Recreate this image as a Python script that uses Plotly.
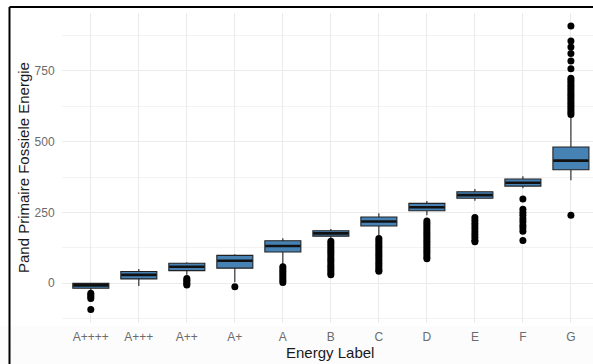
import plotly.graph_objects as go

categories = ["A++++", "A+++", "A++", "A+", "A", "B", "C", "D", "E", "F", "G"]
q1 = [-18, 15, 44, 53, 110, 166, 202, 256, 300, 343, 401]
median = [-8, 29, 58, 79, 131, 176, 218, 268, 311, 355, 433]
q3 = [-1, 41, 70, 98, 150, 185, 234, 282, 323, 368, 481]
lowerfence = [-24, -10, 30, 3, 68, 158, 170, 240, 291, 335, 364]
upperfence = [1, 50, 74, 102, 159, 191, 247, 290, 333, 378, 590]

outliers = {
    "A++++": [-36, -42, -48, -54, -93],
    "A+++": [],
    "A++": [16, 10, 4, -2, -7],
    "A+": [-13],
    "A": [58, 50, 42, 34, 26, 18, 10, 2],
    "B": [148, 140, 132, 124, 116, 108, 100, 92, 84, 76, 68, 60, 52, 44, 36, 30],
    "C": [158, 150, 142, 134, 126, 118, 110, 102, 94, 86, 78, 70, 62, 54, 46, 42],
    "D": [220, 212, 204, 196, 188, 180, 172, 164, 156, 148, 140, 132, 124, 116, 108, 100, 92, 86],
    "E": [232, 222, 212, 202, 192, 182, 172, 162, 152, 146],
    "F": [297, 261, 250, 240, 228, 217, 205, 195, 183, 151],
    "G": [240, 596, 604, 612, 620, 628, 636, 644, 652, 660, 668, 676, 684, 692, 700, 708,
          716, 724, 758, 785, 812, 835, 856, 909],
}

y_ticks = [0, 250, 500, 750]
x_title = "Energy Label"
y_title = "Pand Primaire Fossiele Energie"

out_x, out_y = [], []
for c in categories:
    for v in outliers[c]:
        out_x.append(c)
        out_y.append(v)

fig = go.Figure()
fig.add_trace(go.Box(
    x=categories, q1=q1, median=median, q3=q3,
    lowerfence=lowerfence, upperfence=upperfence,
    boxpoints=False, fillcolor="#4682B4",
    line=dict(color="#222222", width=1.1), whiskerwidth=0,
    showlegend=False, hoverinfo="skip",
))
fig.add_trace(go.Scatter(
    x=categories, y=median, mode="markers",
    marker=dict(symbol="line-ew", size=25, line=dict(color="#111", width=2.6)),
    showlegend=False, hoverinfo="skip",
))
fig.add_trace(go.Scatter(
    x=out_x, y=out_y, mode="markers",
    marker=dict(color="black", size=7),
    showlegend=False, hoverinfo="skip",
))

# geometry helpers (pixels -> paper)
L, R, T, B = 62, 593, 13, 323
W, H = R - L, B - T
def px(x):
    return (x - L) / W
def py(y):
    return (B - y) / H

shapes = []
steps = 10
for i in range(steps):
    y0 = 326 + i * 3.8
    shapes.append(dict(type="rect", xref="paper", yref="paper",
                       x0=px(0), x1=px(600), y0=py(y0 + 3.8), y1=py(y0),
                       fillcolor="rgba(120,120,120,0.022)", line=dict(width=0), layer="below"))
shapes.append(dict(type="line", xref="paper", yref="paper", x0=px(9.5), x1=px(9.5),
                   y0=py(7), y1=py(370), line=dict(color="black", width=2)))
shapes.append(dict(type="line", xref="paper", yref="paper", x0=px(9.5), x1=px(600),
                   y0=py(7), y1=py(7), line=dict(color="black", width=2)))

annotations = [
    dict(text=x_title, xref="paper", yref="paper", x=px(330), y=py(352),
         xanchor="center", yanchor="middle", showarrow=False,
         font=dict(size=15, color="#1a1a1a")),
    dict(text=y_title, xref="paper", yref="paper", x=px(23), y=py(168),
         xanchor="center", yanchor="middle", showarrow=False, textangle=-90,
         font=dict(size=15, color="#1a1a1a")),
]

fig.update_layout(
    width=593, height=364,
    margin=dict(l=L, r=593 - R, t=T, b=364 - B, autoexpand=False),
    paper_bgcolor="white", plot_bgcolor="white",
    boxgap=0.25, boxgroupgap=0,
    font=dict(family="Liberation Sans, Arial, sans-serif"),
    shapes=shapes, annotations=annotations,
    xaxis=dict(
        type="category", categoryorder="array", categoryarray=categories,
        range=[-0.6, 10.46], showgrid=True, gridcolor="#ebebeb", gridwidth=1,
        zeroline=False, showline=False, ticks="outside", ticklen=3,
        tickcolor="rgba(0,0,0,0)", automargin=False,
        tickfont=dict(size=12, color="#6b6b6b"),
    ),
    yaxis=dict(
        range=[-141, 955], tickvals=y_ticks, showgrid=True, gridcolor="#ebebeb",
        gridwidth=1, zeroline=False, showline=False, ticks="outside", ticklen=4,
        tickcolor="rgba(0,0,0,0)", automargin=False,
        tickfont=dict(size=12, color="#6b6b6b"),
        minor=dict(tick0=-125, dtick=250, showgrid=True, gridcolor="#f3f3f3", gridwidth=0.6),
    ),
)

fig.write_html("out.html", config={"displayModeBar": False},
               post_script="document.body.style.margin='0px';document.body.style.overflow='hidden';")
